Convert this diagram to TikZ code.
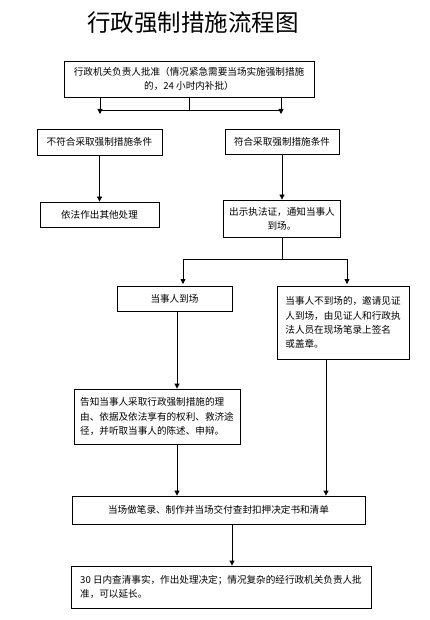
\documentclass[tikz,border=0pt]{standalone}
\usepackage{fontspec}
\setmainfont{Noto Sans CJK SC}
\usetikzlibrary{arrows.meta}
\begin{document}
\begin{tikzpicture}[x=1pt,y=-1pt,
  box/.style={draw=black,line width=0.8pt,rectangle,inner sep=0pt,
    font=\fontsize{9.6pt}{14.3pt}\selectfont},
  arr/.style={line width=0.8pt,-{Triangle[length=5pt,width=5pt]}},
  ln/.style={line width=0.8pt}]
\useasboundingbox[fill=white] (0,0) rectangle (429,620);
\node[font=\fontsize{23.5pt}{26pt}\selectfont] (title) at (193,23) {行政强制措施流程图};
\node[box,minimum width=250pt,minimum height=36pt,align=center] (top) at (189,79)
  {行政机关负责人批准（情况紧急需要当场实施强制措施\\的，24 小时内补批）};
\node[box,minimum width=125pt,minimum height=26pt] (nf) at (99.5,142) {不符合采取强制措施条件};
\node[box,minimum width=114pt,minimum height=25pt] (fh) at (282,141.5) {符合采取强制措施条件};
\node[box,minimum width=119pt,minimum height=25pt] (yf) at (99.5,214.5) {依法作出其他处理};
\node[box,minimum width=117pt,minimum height=37pt,align=center] (cs) at (282,218.5) {出示执法证，通知当事人\\到场。};
\node[box,minimum width=115pt,minimum height=25pt] (dd) at (174.5,298.5) {当事人到场};
\node[box,minimum width=132pt,minimum height=73pt,align=left] (bd) at (343,322.5)
  {当事人不到场的，邀请见证\\人到场，由见证人和行政执\\法人员在现场笔录上签名\\或盖章。};
\node[box,minimum width=166pt,minimum height=55pt,align=left] (gz) at (157,416.5)
  {告知当事人采取行政强制措施的理\\由、依据及依法享有的权利、救济途\\径，并听取当事人的陈述、申辩。};
\node[box,minimum width=293pt,minimum height=28pt] (bl) at (218.5,510)
  {当场做笔录、制作并当场交付查封扣押决定书和清单};
\node[box,minimum width=300pt,minimum height=42pt,align=left] (sr) at (221,587)
  {30 日内查清事实，作出处理决定；情况复杂的经行政机关负责人批\\准，可以延长。};
% top split
\coordinate (t1) at (100,114);
\coordinate (t2) at (281,114);
\coordinate (tj) at (189,110);
\draw[arr] (top.south -| t1) -- (t1);
\draw[arr] (top.south -| t2) -- (t2);
\draw[ln] (top.south) -- (tj);
\draw[ln] (t1 |- tj) -- (t2 |- tj);
% left / right columns
\draw[arr] (nf) -- (yf);
\draw[arr] (fh) -- (cs);
% second split
\coordinate (s1) at (183,284);
\coordinate (s2) at (347,284);
\coordinate (sj) at (282,259);
\draw[ln] (cs.south) -- (sj);
\draw[ln] (s1 |- sj) -- (s2 |- sj);
\draw[arr] (s1 |- sj) -- (s1);
\draw[arr] (s2 |- sj) -- (s2);
% down
\draw[arr] ([xshift=2.5pt]dd.south) -- ([xshift=2.5pt]dd.south |- gz.north);
\draw[arr] ([xshift=20pt]gz.south) -- ([xshift=20pt]gz.south |- bl.north);
\draw[arr] ([xshift=-17pt]bd.south) -- ([xshift=-17pt]bd.south |- bl.north);
\draw[arr] ([xshift=13.5pt]bl.south) -- ([xshift=13.5pt]bl.south |- sr.north);
\end{tikzpicture}
\end{document}
